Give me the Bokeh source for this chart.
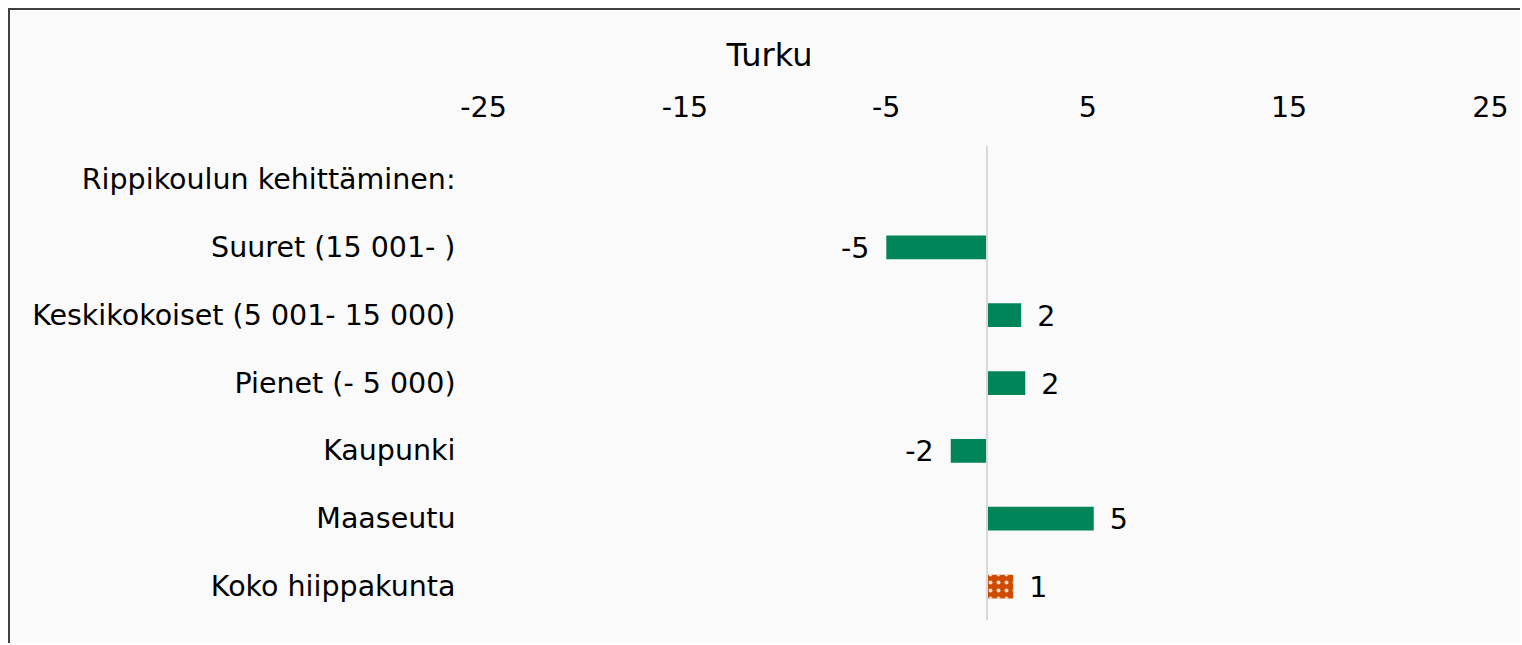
from bokeh.plotting import figure
from bokeh.models import FactorRange, Range1d, Span, FixedTicker, ColumnDataSource
from bokeh.embed import file_html
from bokeh.resources import INLINE
from bokeh.core.properties import value

title_text = "Turku"
categories = ["Rippikoulun kehittäminen:", "Suuret (15 001- )", "Keskikokoiset (5 001- 15 000)",
              "Pienet (- 5 000)", "Kaupunki", "Maaseutu", "Koko hiippakunta"]
group_cats = ["Suuret (15 001- )", "Keskikokoiset (5 001- 15 000)", "Pienet (- 5 000)", "Kaupunki", "Maaseutu"]
group_vals = [-5.0, 1.7, 1.9, -1.8, 5.3]
group_labels = ["-5", "2", "2", "-2", "5"]
total_cats = ["Koko hiippakunta"]
total_vals = [1.3]
total_labels = ["1"]
x_ticks = [-25, -15, -5, 5, 15, 25]
x_tick_labels = ["-25", "-15", "-5", "5", "15", "25"]

FONT = "DejaVu Sans"
FS = "28.5px"
BG = "#fafafa"
GREEN = "#00845a"
ORANGE = "#cf4b02"

p = figure(width=1512, height=635, output_backend="svg", toolbar_location=None,
           y_range=FactorRange(factors=list(reversed(categories))),
           x_range=Range1d(-25, 25), x_axis_location="above",
           min_border_left=473, min_border_right=32, min_border_top=135, min_border_bottom=25)
p.styles = {"margin-top": "8px", "margin-left": "8px",
            "border-top": "2px solid #404040", "border-left": "2px solid #404040"}
p.background_fill_color = BG
p.border_fill_color = BG
p.outline_line_color = None
p.xgrid.grid_line_color = None
p.ygrid.grid_line_color = None

p.title.text = title_text
p.title.align = "left"
p.title.offset = 243
p.title.text_font = FONT
p.title.text_font_size = "32px"
p.title.text_font_style = "normal"
p.title.text_color = "#000000"
p.title.standoff = 37

for ax in (p.xaxis[0], p.yaxis[0]):
    ax.axis_line_color = None
    ax.major_tick_line_color = None
    ax.minor_tick_line_color = None
    ax.major_tick_in = 0
    ax.major_tick_out = 0
    ax.major_label_text_font = FONT
    ax.major_label_text_font_size = FS
    ax.major_label_text_color = "#000000"
p.xaxis.ticker = FixedTicker(ticks=x_ticks)
p.xaxis.major_label_overrides = {t: s for t, s in zip(x_ticks, x_tick_labels)}
p.xaxis.major_label_standoff = 29
p.yaxis.major_label_standoff = 28

p.add_layout(Span(location=0, dimension="height", line_color="#d9d9d9", line_width=2))

gsrc = ColumnDataSource(dict(y=group_cats, x=group_vals, lab=group_labels,
                             off=[-17 if v < 0 else 16 for v in group_vals],
                             al=["right" if v < 0 else "left" for v in group_vals]))
p.hbar(y="y", left=0, right="x", height=0.35, source=gsrc, fill_color=GREEN, line_color=None)
p.text(x="x", y="y", text="lab", x_offset="off", text_align="al", text_baseline="middle",
       source=gsrc, text_font=value(FONT), text_font_size=FS, text_color="#000000")

tsrc = ColumnDataSource(dict(y=total_cats, x=total_vals, lab=total_labels))
p.hbar(y="y", left=0, right="x", height=0.35, source=tsrc, fill_color=ORANGE, line_color=None,
       hatch_pattern="dot", hatch_color="white", hatch_alpha=0.8, hatch_scale=8, hatch_weight=0.5)
p.text(x="x", y="y", text="lab", x_offset=16, text_align="left", text_baseline="middle",
       source=tsrc, text_font=value(FONT), text_font_size=FS, text_color="#000000")

open("out.html", "w").write(file_html(p, INLINE))
